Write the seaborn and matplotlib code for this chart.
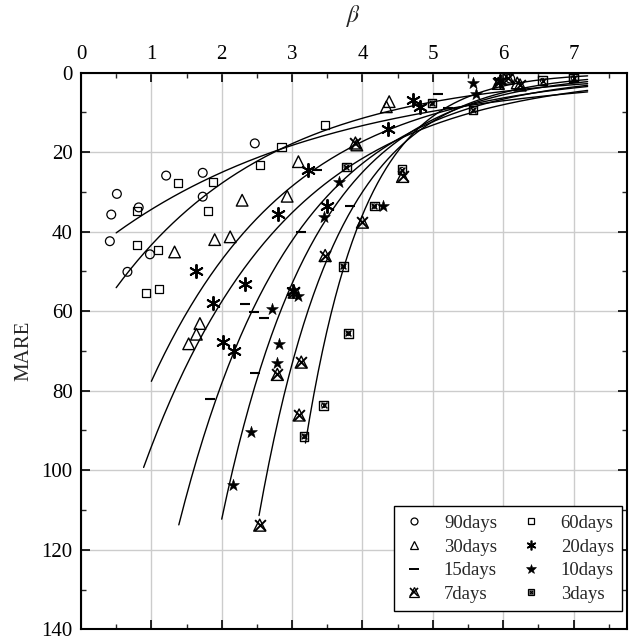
import numpy as np
import matplotlib
matplotlib.use("Agg")
import matplotlib.pyplot as plt
import seaborn as sns
from matplotlib.lines import Line2D
from matplotlib.legend_handler import HandlerTuple
from matplotlib.ticker import MultipleLocator

# ---------------- data ----------------
beta_90 = [0.41, 0.43, 0.51, 0.66, 0.82, 0.98, 1.21, 1.73, 1.73, 2.47, 6.10]
mare_90 = [42.4, 35.7, 30.5, 50.1, 33.9, 45.7, 25.9, 25.2, 31.2, 17.8, 1.5]

beta_60 = [0.79, 0.80, 0.92, 1.10, 1.11, 1.38, 1.81, 1.88, 2.55, 2.85, 3.47, 7.00]
mare_60 = [43.3, 34.9, 55.5, 44.6, 54.4, 27.7, 34.7, 27.5, 23.2, 18.8, 13.1, 1.2]

beta_30 = [1.33, 1.53, 1.64, 1.69, 1.90, 2.12, 2.29, 2.93, 3.09, 3.92, 4.34, 4.38, 6.20]
mare_30 = [45.1, 68.2, 65.8, 63.1, 42.0, 41.3, 32.1, 31.1, 22.4, 18.2, 8.6, 7.3, 2.6]

beta_20 = [1.63, 1.88, 2.02, 2.18, 2.33, 2.80, 3.01, 3.22, 3.49, 4.36, 4.72, 4.82, 5.95]
mare_20 = [49.8, 58.0, 67.7, 70.0, 53.2, 35.5, 55.0, 24.6, 33.5, 14.2, 6.9, 8.7, 2.2]

beta_15 = [1.84, 2.33, 2.46, 2.47, 2.60, 3.13, 3.35, 3.82, 5.07, 5.21]
mare_15 = [82.2, 58.1, 60.1, 75.5, 61.8, 40.0, 24.5, 33.6, 5.4, 9.0]

beta_10 = [2.16, 2.41, 2.72, 2.79, 2.82, 3.09, 3.46, 3.66, 4.29, 5.57, 5.62]
mare_10 = [103.7, 90.4, 59.4, 73.0, 68.2, 56.2, 36.2, 27.4, 33.5, 2.7, 5.4]

beta_7 = [2.54, 2.79, 3.03, 3.10, 3.13, 3.47, 3.90, 4.00, 4.57, 5.93, 6.07, 6.24]
mare_7 = [113.8, 75.9, 55.2, 86.1, 72.8, 46.0, 17.7, 37.6, 26.1, 2.7, 1.4, 3.1]

beta_3 = [3.17, 3.45, 3.73, 3.77, 3.80, 4.17, 4.56, 4.99, 5.57, 6.56, 7.00]
mare_3 = [91.5, 83.7, 48.7, 23.7, 65.6, 33.6, 24.4, 7.7, 9.4, 2.0, 1.4]

series_names = ["90days", "60days", "30days", "20days", "15days", "10days", "7days", "3days"]

# fitted curves: MARE = A * exp(-k * beta), drawn from fit_start to fit_end
fit_A = [47.2, 67.5, 128.0, 153.7, 267.4, 503.3, 1064.0, 4018.0]
fit_k = [0.316, 0.443, 0.50, 0.491, 0.615, 0.75, 0.892, 1.18]
fit_start = [0.50, 0.50, 1.00, 0.89, 1.39, 2.00, 2.53, 3.19]
fit_end = 7.2

x_ticks = [0, 1, 2, 3, 4, 5, 6, 7]
y_ticks = [0, 20, 40, 60, 80, 100, 120, 140]

# ---------------- style ----------------
sns.set_style("ticks")
plt.rcParams["font.family"] = ["Liberation Serif", "DejaVu Serif"]
plt.rcParams["mathtext.fontset"] = "stix"

fig = plt.figure(figsize=(6.38, 6.40), dpi=100)
ax = fig.add_axes([81 / 638, 1 - 629.3 / 640, 546 / 638, 556.7 / 640])

# curves
for A, k, b0 in zip(fit_A, fit_k, fit_start):
    bb = np.linspace(b0, fit_end, 200)
    sns.lineplot(x=bb, y=A * np.exp(-k * bb), ax=ax, color="black",
                 linewidth=1.0, sort=False, estimator=None, zorder=3)


def hollow(x, y, marker, s, lw=0.9):
    sns.scatterplot(x=x, y=y, marker=marker, s=s, color="black", ax=ax,
                    zorder=4, legend=False)
    c = ax.collections[-1]
    c.set_facecolor("none")
    c.set_edgecolor("black")
    c.set_linewidth(lw)


def lined(x, y, marker, s, lw=1.3):
    sns.scatterplot(x=x, y=y, marker=marker, s=s, color="black", ax=ax,
                    zorder=4, legend=False)
    c = ax.collections[-1]
    c.set_edgecolor("black")
    c.set_linewidth(lw)


asterisk = (6, 2, 0)

hollow(beta_90, mare_90, "o", 40)
hollow(beta_60, mare_60, "s", 34)
hollow(beta_30, mare_30, "^", 70, 1.0)
lined(beta_20, mare_20, asterisk, 90, 1.4)
lined(beta_15, mare_15, "_", 60, 1.5)
sns.scatterplot(x=beta_10, y=mare_10, marker="*", s=80, color="black",
                edgecolor="black", linewidth=0.4, ax=ax, zorder=4, legend=False)
hollow(beta_7, mare_7, "^", 75, 1.0)
lined(beta_7, mare_7, "x", 60, 1.4)
hollow(beta_3, mare_3, "s", 38, 1.0)
lined(beta_3, mare_3, "x", 18, 1.0)
hollow(beta_3, mare_3, "o", 10, 0.7)

# axes
ax.set_xlim(0, 7.76)
ax.set_ylim(140, 0)
ax.set_xticks(x_ticks)
ax.set_yticks(y_ticks)
ax.xaxis.set_minor_locator(MultipleLocator(0.5))
ax.yaxis.set_minor_locator(MultipleLocator(10))
ax.xaxis.set_ticks_position("both")
ax.yaxis.set_ticks_position("both")
ax.xaxis.set_label_position("top")
ax.tick_params(axis="x", which="both", labeltop=True, labelbottom=False)
ax.tick_params(which="major", direction="in", length=6.5, width=1.2,
               labelsize=15, pad=6, colors="black")
ax.tick_params(which="minor", direction="in", length=3.5, width=1.0)
for sp in ax.spines.values():
    sp.set_linewidth(1.5)
    sp.set_color("black")
ax.grid(True, which="major", color="#cccccc", linewidth=1.0, zorder=0)
ax.set_axisbelow(True)

ax.set_xlabel(r"$\beta$", fontsize=17, labelpad=17)
ax.set_ylabel("MARE", fontsize=15, labelpad=6)

# legend
def mk(marker, ms, filled=False, mew=0.9):
    return Line2D([], [], linestyle="None", marker=marker, markersize=ms,
                  markerfacecolor="black" if filled else "none",
                  markeredgecolor="black", markeredgewidth=mew)

handles = [
    mk("o", 5),
    mk("s", 4.6),
    mk("^", 6),
    mk(asterisk, 7, mew=1.2),
    mk("_", 7, mew=1.4),
    mk("*", 7, filled=True, mew=0.4),
    (mk("^", 6.5), mk("x", 6, mew=1.2)),
    (mk("s", 5), mk("x", 3.2, mew=0.9), mk("o", 2.4, mew=0.6)),
]
# columns read: 90,30,15,7 | 60,20,10,3
col_order = [0, 2, 4, 6, 1, 3, 5, 7]
leg = ax.legend([handles[i] for i in col_order],
                [series_names[i] for i in col_order],
                handler_map={tuple: HandlerTuple(ndivide=1, pad=0)},
                ncol=2, loc="lower right", bbox_to_anchor=(0.991, 0.032),
                borderaxespad=0, fontsize=13.5, frameon=True, fancybox=False,
                edgecolor="black", framealpha=1, handlelength=1.2,
                handletextpad=1.0, columnspacing=1.2, labelspacing=0.35,
                borderpad=0.45)
leg.get_frame().set_linewidth(1.0)

fig.savefig("out.png", dpi=100)
